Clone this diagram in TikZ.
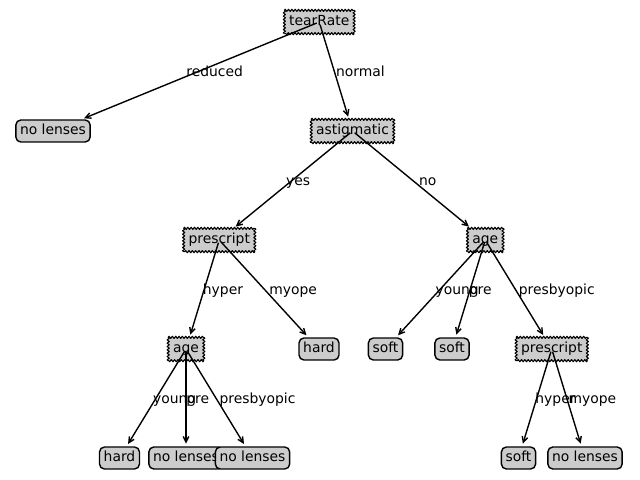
\documentclass[tikz,border=0pt]{standalone}
\usepackage{fontspec}
\setmainfont{DejaVu Sans}
\usetikzlibrary{calc,arrows.meta,decorations.pathmorphing}
\tikzset{
  box/.style={fill=black!20, text=black, line width=1pt,
    inner xsep=3pt, inner ysep=3pt, text height=7.5pt, text depth=2.3pt},
  dec/.style={box},
  saw/.style={line width=0.8pt, line join=round, decorate,
    decoration={zigzag, segment length=2.4pt, amplitude=0.75pt}},
  leaf/.style={box, draw, rounded corners=3.5pt},
  arr/.style={-{Straight Barb[length=4pt,width=4pt]}, line width=1pt,
    shorten <=2pt, shorten >=2pt},
  lab/.style={anchor=base west, inner sep=0pt, text=black}
}
\begin{document}
\begin{tikzpicture}[x=0.72pt, y=-0.72pt, font=\fontsize{10pt}{12pt}\selectfont]
\useasboundingbox (0,0) rectangle (640,480);
% nodes
\node[dec]  (T)   at (319.25,22) {tearRate};
\node[leaf] (NL1) at (53,131) {no lenses};
\node[dec]  (A)   at (352.5,131) {astigmatic};
\node[dec]  (P1)  at (219.25,240) {prescript};
\node[dec]  (G1)  at (186,349) {age};
\node[leaf] (H0)  at (119.5,458) {hard};
\node[leaf] (NL2) at (186,458) {no lenses};
\node[leaf] (NL3) at (252.5,458) {no lenses};
\node[leaf] (H1)  at (319,349) {hard};
\node[dec]  (G2)  at (485.25,240) {age};
\node[leaf] (S1)  at (385.5,349) {soft};
\node[leaf] (S2)  at (452,349) {soft};
\node[dec]  (P2)  at (551.75,349) {prescript};
\node[leaf] (S3)  at (518.5,458) {soft};
\node[leaf] (NL4) at (585,458) {no lenses};
% sawtooth borders of the decision nodes
\foreach \n in {T, A, P1, G1, G2, P2}{
  \draw[saw] (\n.north west) -- (\n.north east);
  \draw[saw] (\n.north east) -- (\n.south east);
  \draw[saw] (\n.south east) -- (\n.south west);
  \draw[saw] (\n.south west) -- (\n.north west);
}
% edges
\foreach \p/\c/\t in {T/NL1/reduced, T/A/normal, A/P1/yes, A/G2/no,
  P1/G1/hyper, P1/H1/myope, G1/H0/young, G1/NL2/pre, G1/NL3/presbyopic,
  G2/S1/young, G2/S2/pre, G2/P2/presbyopic, P2/S3/hyper, P2/NL4/myope}{
  \draw[arr] (\p.center) -- (\c);
  \node[lab] (lab-\p-\c) at ($(\p.center)!0.5!(\c.center)$) {\t};
}
\end{tikzpicture}
\end{document}
